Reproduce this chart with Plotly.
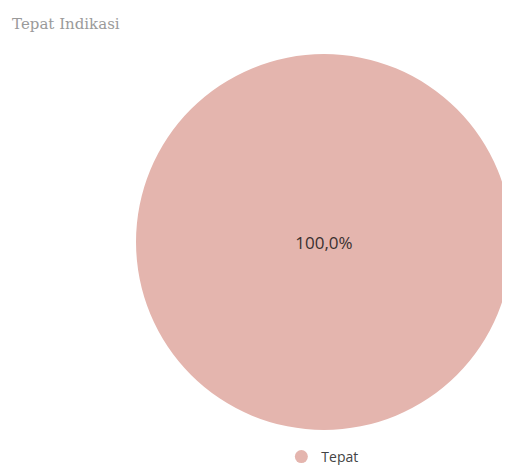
import plotly.graph_objects as go

labels = ["Tepat"]
values = [100]
colors = ["#E4B5AE"]
title_text = "Tepat Indikasi"

fig = go.Figure()
fig.add_trace(go.Pie(
    labels=labels, values=values, marker=dict(colors=colors, line=dict(width=0)),
    texttemplate="%{percent:.1%}", textposition="inside",
    textfont=dict(family="Open Sans", size=17, color="#3a3030"),
    insidetextorientation="horizontal",
    showlegend=False, sort=False, hoverinfo="label+percent",
    domain=dict(x=[0.251, 0.988], y=[0.0925, 0.901]),
))
fig.add_trace(go.Scatter(
    x=[None], y=[None], mode="markers", name=labels[0],
    marker=dict(color=colors[0], size=13, symbol="circle"),
    showlegend=True,
))
fig.update_layout(
    width=510, height=465,
    margin=dict(l=0, r=0, t=0, b=0),
    paper_bgcolor="white", plot_bgcolor="white",
    separators=",.",
    title=dict(text=title_text, x=0.008, xanchor="left", y=0.9656, yanchor="middle",
               font=dict(family="DejaVu Serif", size=15, color="#9a9a9a")),
    xaxis=dict(visible=False), yaxis=dict(visible=False),
    legend=dict(orientation="h", x=0.536, xanchor="left", y=0.0344, yanchor="middle",
                font=dict(family="Open Sans", size=14, color="#444444"),
                bgcolor="rgba(0,0,0,0)"),
)
fig.write_html("out.html", post_script="document.documentElement.style.overflow='hidden';document.body.style.overflow='hidden';")
